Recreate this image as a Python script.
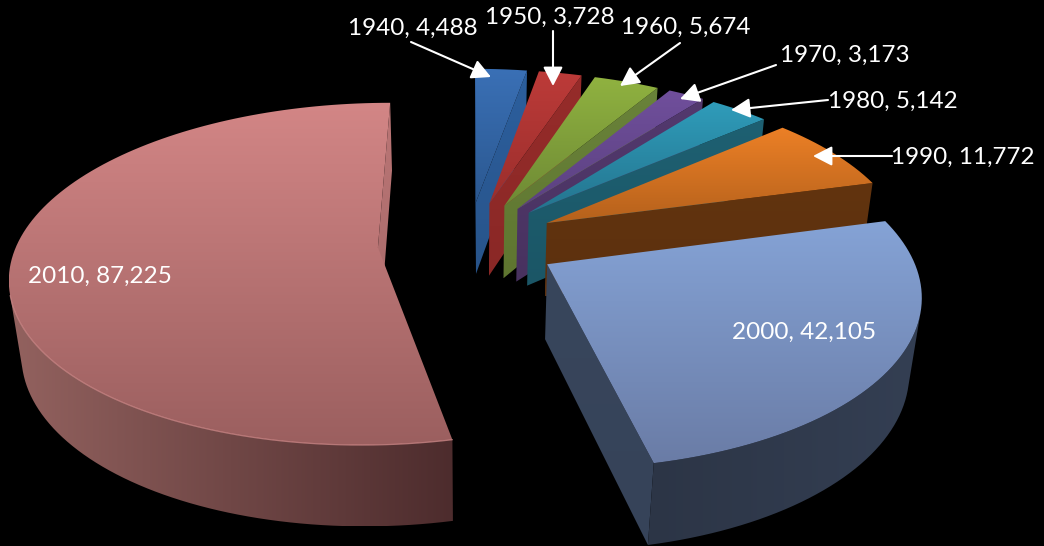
import numpy as np, pandas as pd, seaborn as sns, matplotlib
matplotlib.use('Agg')
import matplotlib.pyplot as plt
from matplotlib.patches import Polygon
from matplotlib.colors import to_rgb

years = [1940, 1950, 1960, 1970, 1980, 1990, 2000, 2010]
counts = [4488, 3728, 5674, 3173, 5142, 11772, 42105, 87225]
top_light = ['#3a70b6', '#bd3b39', '#90b240', '#704f9c', '#2f9cba', '#ec8026', '#85a3d6', '#d38686']
top_dark = ['#2b5890', '#9b2e2c', '#6e8a35', '#5b4180', '#24748e', '#b5611c', '#6a7ca6', '#9b5f5f']
side_light = ['#2c5f9e', '#962c2a', '#69823a', '#53396e', '#1e6072', '#62340f', '#38465c', '#bb7676']
side_dark = ['#28548a', '#8a2826', '#5f7630', '#48325f', '#1b5666', '#5c300e', '#364359', '#a86a6a']
wall_left = ['#28548a', '#8a2826', '#5f7630', '#48325f', '#1b5666', '#5c300e', '#2c3546', '#93625f']
wall_right = ['#28548a', '#8a2826', '#5f7630', '#48325f', '#1b5666', '#5c300e', '#343f53', '#4d2c2d']
labels = ['1940, 4,488', '1950, 3,728', '1960, 5,674', '1970, 3,173',
          '1980, 5,142', '1990, 11,772', '2000, 42,105', '2010, 87,225']
label_xy = [(413, 28), (550, 17), (686, 27), (845, 55), (893, 101), (963, 157), (804, 332), (100, 276)]
arrow_tail = [(411, 42), (553, 31), (680, 43), (776, 65), (828, 100), (892, 156), None, None]
arrow_tip = [(491, 77), (553, 86), (620, 86), (680, 99), (731, 110), (813, 156), None, None]

sns.set_style('white', {'axes.facecolor': 'black', 'figure.facecolor': 'black', 'savefig.facecolor': 'black'})
plt.rcParams['font.family'] = ['Lato', 'DejaVu Sans']
df = pd.DataFrame({'year': years, 'count': counts})
pal_light = sns.color_palette(top_light)
pal_dark = sns.color_palette(top_dark)

fr = df['count'].to_numpy(float)
edges = np.r_[0, np.cumsum(fr)] / fr.sum() * 2 * np.pi
mids = (edges[:-1] + edges[1:]) / 2

# camera: elevation, focal length, distance, principal point, offsets; explode and thickness
E, f, D, cx, cy, h, x0, k, T, k7x, k7y = (0.64753, 1864.91768, 5.17432, 469.29850, 579.56986,
                                          0.93603, -0.00281, 0.25109, 0.23286, 0.00014, -0.0045)

def proj(X, Y, Z):
    X, Y = np.asarray(X, float), np.asarray(Y, float)
    zc = D + Y * np.cos(E) - Z * np.sin(E)
    return np.c_[cx + f * (X + x0) / zc, cy - f * (Y * np.sin(E) + Z * np.cos(E) + h) / zc]

def area(q):
    x, y = q[:, 0], q[:, 1]
    return np.sum(x * np.roll(y, -1) - np.roll(x, -1) * y)

fig = plt.figure(figsize=(10.44, 5.46), dpi=100)
ax = fig.add_axes([0, 0, 1, 1])
ax.set_axis_off()
zo = [1]

def gradient(poly, c0, c1, horizontal=False):
    lo, hi = poly.min(0), poly.max(0)
    t = np.linspace(0, 1, 256)
    t = t[None, :, None] if horizontal else t[:, None, None]
    img = (1 - t) * np.array(to_rgb(c0))[None, None, :] + t * np.array(to_rgb(c1))[None, None, :]
    im = ax.imshow(img, extent=(lo[0], hi[0], hi[1], lo[1]), aspect='auto', zorder=zo[0], interpolation='bilinear')
    im.set_clip_path(Polygon(poly, transform=ax.transData))
    zo[0] += 1

for w in range(len(df)):
    ax_, ay_ = k * np.sin(mids[w]), k * np.cos(mids[w])
    if w == 7:
        ax_ += k7x
        ay_ += k7y
    th = np.linspace(edges[w], edges[w + 1], max(3, int(np.degrees(edges[w + 1] - edges[w]) / 1.5)))
    rx, ry = ax_ + np.sin(th), ay_ + np.cos(th)
    top = proj(rx, ry, 0.0)
    bot = proj(rx, ry, -T)
    a_t = proj([ax_], [ay_], 0.0)[0]
    a_b = proj([ax_], [ay_], -T)[0]
    q_s = np.array([a_t, top[0], bot[0], a_b])
    q_e = np.array([a_t, top[-1], bot[-1], a_b])
    if area(q_s) < 0:
        gradient(q_s, side_light[w], side_dark[w])
    if area(q_e) > 0:
        gradient(q_e, side_light[w], side_dark[w])
    vis = [i for i in range(len(th) - 1)
           if area(np.array([top[i], top[i + 1], bot[i + 1], bot[i]])) < 0]
    if vis:
        i0, i1 = vis[0], vis[-1] + 1
        gradient(np.vstack([top[i0:i1 + 1], bot[i0:i1 + 1][::-1]]), wall_left[w], wall_right[w], horizontal=True)
    gradient(np.vstack([a_t, top]), pal_light[w], pal_dark[w])
    if w == 7 and vis:
        ax.plot(top[i0:i1 + 1, 0], top[i0:i1 + 1, 1], color='#d89090', lw=0.9, alpha=0.7, zorder=zo[0])
        zo[0] += 1

for i, (lab, (x, y)) in enumerate(zip(labels, label_xy)):
    ax.text(x, y, lab, color='white', fontsize=17.5, ha='center', va='center', zorder=500)
    if arrow_tip[i] is not None:
        ax.annotate('', xy=arrow_tip[i], xytext=arrow_tail[i], zorder=400,
                    arrowprops=dict(arrowstyle='-|>,head_width=0.3,head_length=0.58', color='white',
                                    lw=1.5, shrinkA=0, shrinkB=0, mutation_scale=20))

ax.set_xlim(0, 1044)
ax.set_ylim(546, 0)
fig.savefig('out.png', dpi=100, facecolor='black')
